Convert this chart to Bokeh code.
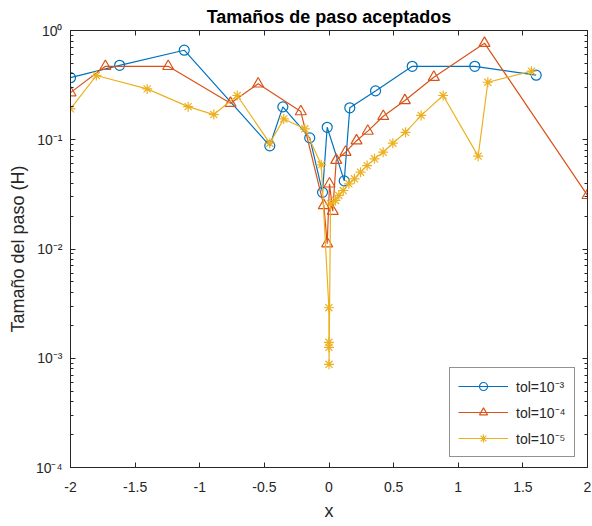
from bokeh.plotting import figure
from bokeh.models import FixedTicker, LinearAxis, LogAxis
from bokeh.embed import file_html
from bokeh.resources import INLINE

# ---- data ----
x_tol3 = [-2.0, -1.62, -1.12, -0.458, -0.357, -0.149, -0.05, -0.014, 0.118, 0.161, 0.36, 0.644, 1.128, 1.603]
h_tol3 = [0.37, 0.48, 0.66, 0.088, 0.20, 0.104, 0.033, 0.13, 0.042, 0.196, 0.28, 0.47, 0.47, 0.39]

x_tol4 = [-2.0, -1.73, -1.244, -0.762, -0.548, -0.218, -0.04, -0.014, 0.004, 0.029, 0.056, 0.128,
          0.213, 0.30, 0.42, 0.587, 0.811, 1.203, 2.0]
h_tol4 = [0.27, 0.47, 0.47, 0.216, 0.325, 0.181, 0.025, 0.0112, 0.0395, 0.0222, 0.065, 0.077,
          0.098, 0.12, 0.164, 0.229, 0.374, 0.765, 0.031]

x_tol5 = [-2.0, -1.80, -1.407, -1.09, -0.891, -0.71, -0.458, -0.35, -0.187, -0.06, -0.001, -0.0005,
          0.0, 0.0005, 0.012, 0.050, 0.076, 0.110, 0.154, 0.197, 0.244, 0.295, 0.352, 0.419, 0.494,
          0.592, 0.713, 0.883, 1.154, 1.229, 1.567]
h_tol5 = [0.192, 0.387, 0.292, 0.201, 0.170, 0.254, 0.093, 0.155, 0.126, 0.059, 0.0029, 0.0014,
          0.00126, 0.00088, 0.0259, 0.0278, 0.0309, 0.0343, 0.0395, 0.0439, 0.0505, 0.058, 0.0669,
          0.0769, 0.093, 0.117, 0.167, 0.254, 0.0708, 0.336, 0.424]

series_labels = ["tol=10\u207b\u00b3", "tol=10\u207b\u2074", "tol=10\u207b\u2075"]

x_ticks = [-2.0, -1.5, -1.0, -0.5, 0.0, 0.5, 1.0, 1.5, 2.0]
x_tick_labels = ["-2", "-1.5", "-1", "-0.5", "0", "0.5", "1", "1.5", "2"]
y_ticks = [1e-4, 1e-3, 1e-2, 1e-1, 1.0]
y_tick_labels = ["10\u207b\u2074", "10\u207b\u00b3", "10\u207b\u00b2", "10\u207b\u00b9", "10\u2070"]

title_text = "Tamaños de paso aceptados"
x_label = "x"
y_label = "Tamaño del paso (H)"

FONT = "Liberation Sans"
AX = "#262626"
C1, C2, C3 = "#0072BD", "#D95319", "#EDB120"

p = figure(width=592, height=526, x_range=(-2, 2), y_range=(1e-4, 1), y_axis_type="log",
           output_backend="svg", toolbar_location=None, title=title_text,
           min_border_left=70, min_border_right=5, min_border_top=30, min_border_bottom=59)
p.background_fill_color = "white"
p.border_fill_color = "white"
p.outline_line_color = AX
p.xgrid.visible = False
p.ygrid.visible = False

p.title.text_font = FONT
p.title.text_font_size = "18px"
p.title.text_font_style = "bold"
p.title.text_color = "black"
p.title.align = "center"
p.title.standoff = 8

minor = [d * k for d in y_ticks[:-1] for k in range(2, 10)]
xt = FixedTicker(ticks=x_ticks)
yt = FixedTicker(ticks=y_ticks, minor_ticks=minor)

for ax in p.xaxis:
    ax.ticker = xt
    ax.major_label_overrides = dict(zip(x_ticks, x_tick_labels))
for ax in p.yaxis:
    ax.ticker = yt
    ax.major_label_overrides = dict(zip(y_ticks, y_tick_labels))

for ax in list(p.xaxis) + list(p.yaxis):
    ax.axis_line_color = AX
    ax.major_tick_line_color = AX
    ax.minor_tick_line_color = AX
    ax.major_tick_in = 5
    ax.major_tick_out = 0
    ax.minor_tick_in = 3
    ax.minor_tick_out = 0
    ax.major_label_text_font = FONT
    ax.major_label_text_font_size = "14px"
    ax.major_label_text_color = AX
    ax.axis_label_text_font = FONT
    ax.axis_label_text_font_size = "18px"
    ax.axis_label_text_font_style = "normal"
    ax.axis_label_text_color = AX
p.xaxis.minor_tick_line_color = None
p.xaxis.axis_label = x_label
p.yaxis.axis_label = y_label
p.xaxis.major_label_standoff = 14
p.xaxis.axis_label_standoff = 6
p.yaxis.major_label_standoff = 8
p.yaxis.axis_label_standoff = 5

blank_x = dict(zip(x_ticks, [" "] * len(x_ticks)))
blank_y = dict(zip(y_ticks, [" "] * len(y_ticks)))
top = LinearAxis(ticker=xt, major_label_overrides=blank_x, major_label_text_font_size="1px",
                 major_label_text_alpha=0, major_label_standoff=0,
                 major_tick_in=5, major_tick_out=0, minor_tick_line_color=None,
                 axis_line_color=AX, major_tick_line_color=AX)
p.add_layout(top, "above")
right = LogAxis(ticker=yt, major_label_overrides=blank_y, major_label_text_font_size="1px",
                major_label_text_alpha=0, major_label_standoff=0,
                major_tick_in=5, major_tick_out=0, minor_tick_in=3, minor_tick_out=0,
                axis_line_color=AX, major_tick_line_color=AX, minor_tick_line_color=AX)
p.add_layout(right, "right")

lw = 1.2
p.line(x_tol3, h_tol3, color=C1, line_width=lw, legend_label=series_labels[0])
p.scatter(x_tol3, h_tol3, marker="circle", size=10, line_color=C1, fill_color=None,
          line_width=lw, legend_label=series_labels[0])
p.line(x_tol4, h_tol4, color=C2, line_width=lw, legend_label=series_labels[1])
p.scatter(x_tol4, h_tol4, marker="triangle", size=11, line_color=C2, fill_color=None,
          line_width=lw, legend_label=series_labels[1])
p.line(x_tol5, h_tol5, color=C3, line_width=lw, legend_label=series_labels[2])
p.scatter(x_tol5, h_tol5, marker="asterisk", size=10, line_color=C3, fill_color=None,
          line_width=lw, legend_label=series_labels[2])

lg = p.legend[0]
lg.location = (379, 10)
lg.border_line_color = AX
lg.border_line_width = 1
lg.background_fill_color = "white"
lg.background_fill_alpha = 1
lg.label_text_font = FONT
lg.label_text_font_size = "14px"
lg.label_text_color = AX
lg.glyph_width = 50
lg.glyph_height = 20
lg.label_height = 20
lg.spacing = 6
lg.padding = 8
lg.margin = 0
lg.label_standoff = 8

open("out.html", "w").write(file_html(p, INLINE))
